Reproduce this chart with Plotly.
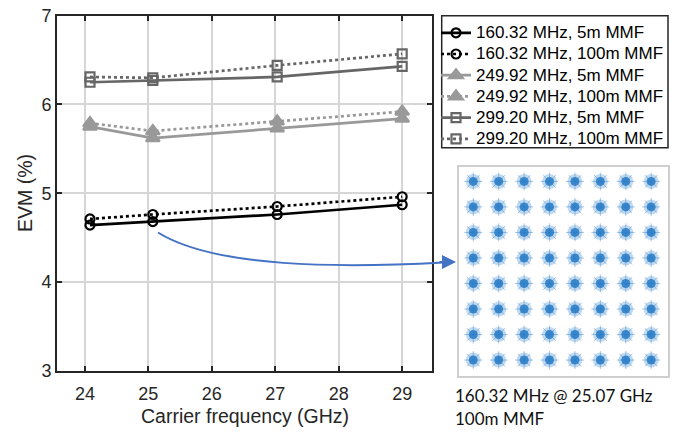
import plotly.graph_objects as go

W, H = 688, 432

# ---------------- data ----------------
freq_ghz = [24.08, 25.07, 27.03, 29.0]
evm_160_5m = [4.64, 4.68, 4.76, 4.87]
evm_160_100m = [4.71, 4.76, 4.85, 4.96]
evm_250_5m = [5.75, 5.62, 5.73, 5.84]
evm_250_100m = [5.79, 5.70, 5.81, 5.92]
evm_299_5m = [6.25, 6.27, 6.31, 6.43]
evm_299_100m = [6.31, 6.30, 6.44, 6.57]

series_names = [
    "160.32 MHz, 5m MMF", "160.32 MHz, 100m MMF",
    "249.92 MHz, 5m MMF", "249.92 MHz, 100m MMF",
    "299.20 MHz, 5m MMF", "299.20 MHz, 100m MMF",
]
x_ticks = [24, 25, 26, 27, 28, 29]
y_ticks = [3, 4, 5, 6, 7]

qam_levels = [-7, -5, -3, -1, 1, 3, 5, 7]
caption_lines = ["160.32 MHz @ 25.07 GHz", "100m MMF"]


def px(x):
    return x / W


def py(y):
    return 1 - y / H


# plot geometry (pixels)
L, R, T, B = 57, 432, 15.7, 370.7
CL, CR, CT, CB = 459.3, 667.7, 166.7, 376

fig = go.Figure()

styles = [
    (evm_160_5m, "#000000", "solid", "circle-open", 9),
    (evm_160_100m, "#000000", "dot", "circle-open", 9),
    (evm_250_5m, "#999999", "solid", "triangle-up", 12),
    (evm_250_100m, "#999999", "dot", "triangle-up", 12),
    (evm_299_5m, "#666666", "solid", "square-open", 9),
    (evm_299_100m, "#666666", "dot", "square-open", 9),
]
for name, (vals, col, dash, sym, size) in zip(series_names, styles):
    fig.add_trace(go.Scatter(
        x=freq_ghz, y=vals,
        name=f'<span style="font-size:17px">{name}</span>',
        mode="lines+markers",
        line=dict(color=col, width=2.7, dash=dash),
        marker=dict(symbol=sym, size=size, color=col,
                    line=dict(color=col, width=2.2)),
        xaxis="x", yaxis="y",
    ))

# constellation (64-QAM ideal points drawn as blurred clusters)
cx = [i for i in qam_levels for _ in qam_levels]
cy = [q for _ in qam_levels for q in qam_levels]
blue = "#2479c6"
fig.add_trace(go.Scatter(
    x=cx, y=cy, mode="markers", showlegend=False, hoverinfo="skip",
    marker=dict(symbol="circle", size=15, color=blue, opacity=0.28,
                line=dict(width=0)),
    xaxis="x2", yaxis="y2",
))
fig.add_trace(go.Scatter(
    x=cx, y=cy, mode="markers", showlegend=False, hoverinfo="skip",
    marker=dict(symbol="asterisk-open", size=15, color=blue,
                opacity=0.4, line=dict(color=blue, width=1)),
    xaxis="x2", yaxis="y2",
))
fig.add_trace(go.Scatter(
    x=cx, y=cy, mode="markers", showlegend=False, hoverinfo="skip",
    marker=dict(symbol="circle", size=9, color=blue, opacity=0.85,
                line=dict(width=0)),
    xaxis="x2", yaxis="y2",
))

tick_font = dict(family="Liberation Sans, Arial, sans-serif", size=18,
                 color="#262626")
title_font = dict(family="Liberation Sans, Arial, sans-serif", size=19.5,
                  color="#262626")

fig.update_layout(
    width=W, height=H,
    margin=dict(l=0, r=0, t=0, b=0),
    paper_bgcolor="white", plot_bgcolor="white",
    font=dict(family="Liberation Sans, Arial, sans-serif", color="#262626"),
    xaxis=dict(
        domain=[px(L), px(R)], range=[23.56, 29.47], tickvals=x_ticks,
        showgrid=True, gridcolor="#d6d6d6", gridwidth=2,
        showline=True, linecolor="#262626", linewidth=2, mirror="ticks",
        ticks="inside", ticklen=5, tickwidth=2, tickcolor="#262626",
        tickfont=tick_font, zeroline=False, automargin=False,
        ticklabelstandoff=6, anchor="y",
    ),
    yaxis=dict(
        domain=[py(B), py(T)], range=[3, 7], tickvals=y_ticks,
        showgrid=True, gridcolor="#d6d6d6", gridwidth=2,
        showline=True, linecolor="#262626", linewidth=2, mirror="ticks",
        ticks="inside", ticklen=5, tickwidth=2, tickcolor="#262626",
        tickfont=tick_font, zeroline=False, automargin=False,
        ticklabelstandoff=0, anchor="x",
    ),
    xaxis2=dict(
        domain=[px(CL), px(CR)], range=[-8.1, 8.3],
        showgrid=False, zeroline=False, showticklabels=False, ticks="",
        showline=True, linecolor="#cfcfcf", linewidth=1.5, mirror=True,
        anchor="y2",
    ),
    yaxis2=dict(
        domain=[py(CB), py(CT)], range=[-8.25, 8.15],
        showgrid=False, zeroline=False, showticklabels=False, ticks="",
        showline=True, linecolor="#cfcfcf", linewidth=1.5, mirror=True,
        anchor="x2",
    ),
    legend=dict(
        x=px(436), y=py(17.2), xanchor="left", yanchor="top",
        bgcolor="rgba(0,0,0,0)", borderwidth=0,
        font=dict(family="Liberation Sans, Arial, sans-serif", size=14,
                  color="#000000"),
        tracegroupgap=0, itemwidth=30,
    ),
    showlegend=True,
)

# legend frame
fig.add_shape(type="rect", xref="paper", yref="paper",
              x0=px(441.7), x1=px(668), y0=py(147.7), y1=py(15.7),
              line=dict(color="#262626", width=1.5), fillcolor="white",
              layer="below")

# axis titles
fig.add_annotation(text="EVM (%)", x=px(25), y=py(193), xref="paper",
                   yref="paper", textangle=-90, showarrow=False,
                   font=title_font, xanchor="center", yanchor="middle")
fig.add_annotation(text="Carrier frequency (GHz)", x=px(245), y=py(416),
                   xref="paper", yref="paper", showarrow=False,
                   font=title_font, xanchor="center", yanchor="middle")

# caption
for i, line in enumerate(caption_lines):
    fig.add_annotation(text=line, x=px(453), y=py(395 + 23.5 * i),
                       xref="paper", yref="paper", showarrow=False,
                       font=dict(family="Lato, Noto Sans, sans-serif",
                                 size=17, color="#111111"),
                       xanchor="left", yanchor="middle")

# blue curved arrow
x0, y0 = 158, 232.5
x1, y1 = 444, 262.5
path = (f"M {px(x0)},{py(y0)} C {px(215)},{py(268)} {px(340)},{py(268)} "
        f"{px(x1)},{py(y1)}")
fig.add_shape(type="path", path=path, xref="paper", yref="paper",
              line=dict(color="#4472c4", width=2))
fig.add_annotation(x=px(456), y=py(262), xref="paper", yref="paper",
                   ax=-18, ay=0, text="", showarrow=True, arrowhead=2,
                   arrowsize=1.4, arrowwidth=2, arrowcolor="#4472c4")

# the page's default 8px body margin would shift the 688x432 figure
fig.write_html(
    "out.html",
    config={"displayModeBar": False},
    post_script="document.body.style.margin='0px';"
                "document.body.style.overflow='hidden';",
)
